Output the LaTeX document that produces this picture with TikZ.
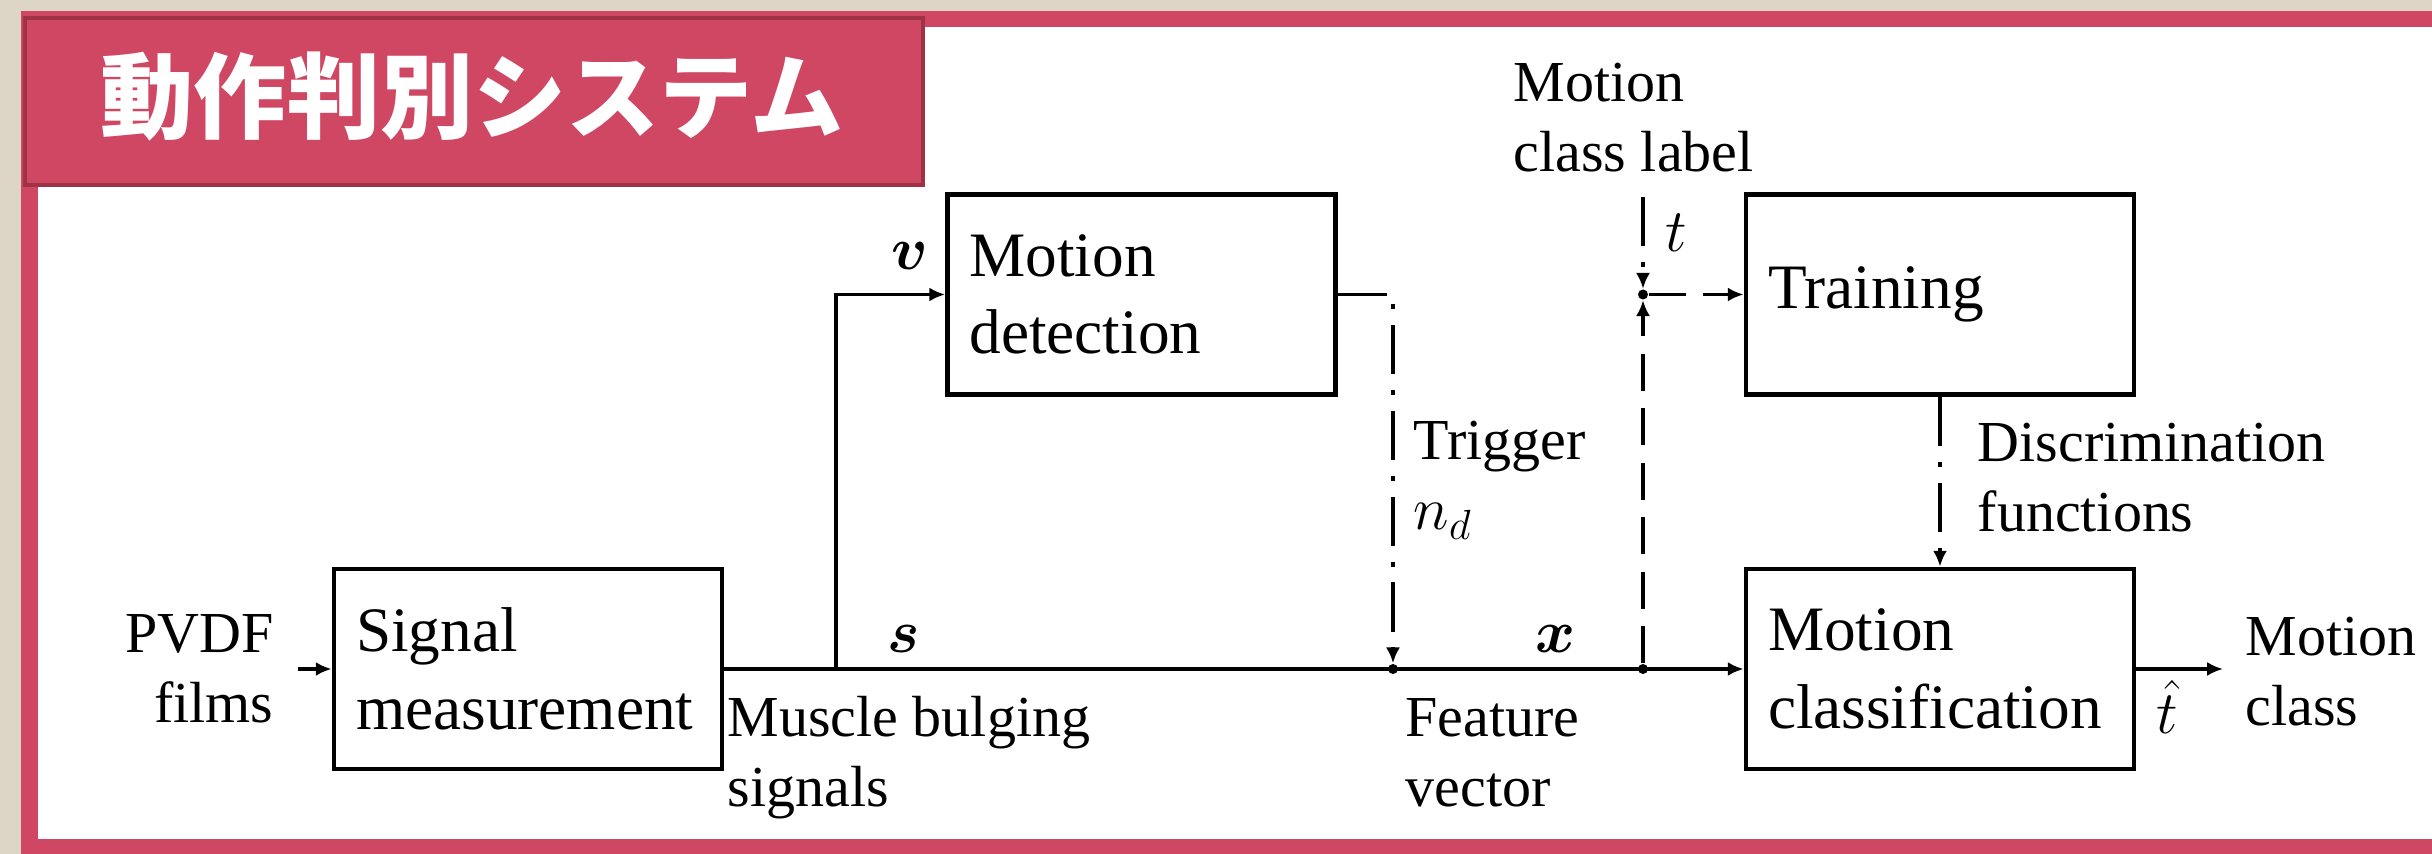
\documentclass[tikz,border=0pt]{standalone}
\usepackage{amsmath}
\usepackage{bm}
\usepackage{fontspec}
\setmainfont{Liberation Serif}
\newfontfamily\jpfont{Noto Sans CJK JP}
\usetikzlibrary{arrows.meta}

\definecolor{framered}{RGB}{207,71,98}
\definecolor{titleedge}{RGB}{160,50,72}
\definecolor{paper}{RGB}{221,214,198}

\begin{document}
\begin{tikzpicture}[
    block/.style={draw, line width=1.35pt, minimum height=2cm, text width=3.44cm,
      inner xsep=0.22cm, align=left, font=\fontsize{18}{22}\selectfont},
    lbl/.style={inner sep=0pt, align=left, font=\fontsize{16.5}{20}\selectfont},
    wire/.style={line width=1.1pt},
    dashdot/.style={wire, dash pattern=on 14pt off 4.5pt on 1.4pt off 4.5pt},
    dsh/.style={wire, dash pattern=on 10.5pt off 5pt},
    dot/.style={circle, fill, inner sep=0pt, minimum size=0.1cm},
    >={Latex[length=4.5pt,width=4pt]}
  ]
  \useasboundingbox (0,0) rectangle (24.32,8.54);

  % frame and title
  \fill[paper] (0,0) rectangle (24.32,8.54);
  \fill[framered] (0.21,0) rectangle (24.32,8.43);
  \fill[white] (0.375,0.15) rectangle (24.32,8.27);
  \draw[titleedge, fill=framered, line width=1pt] (0.25,6.69) rectangle (9.23,8.36);
  \node[white, font=\jpfont\bfseries\fontsize{26.5}{30}\selectfont] (title) at (4.72,7.575) {動作判別システム};

  % blocks
  \node[block] (sig) at (5.28,1.85) {Signal\\measurement};
  \node[block] (det) at (11.415,5.595) {Motion\\detection};
  \node[block] (trn) at (19.40,5.595) {Training};
  \node[block] (cls) at (19.40,1.85) {Motion\\classification};

  % junctions
  \coordinate (pin) at (2.98,1.85);
  \coordinate (split) at (8.36,1.85);
  \coordinate (ltop) at (16.43,6.57);
  \coordinate (pout) at (22.23,1.85);
  \node[dot] (jtrig) at (13.93,1.85) {};
  \node[dot] (jlab) at (16.43,1.85) {};
  \node[dot] (jtrn) at (16.43,5.595) {};

  % connectors
  \draw[wire,->] (pin) -- (sig);
  \draw[wire,->] (sig) -- (cls);
  \draw[wire,->] (split) |- (det);
  \draw[dashdot,->] (det) -| (jtrig);
  \draw[dashdot,->] (ltop) -- (jtrn);
  \draw[dsh,->] (jlab) -- (jtrn);
  \draw[dsh,->] (jtrn) -- (trn);
  \draw[dashdot,->] (trn) -- (cls);
  \draw[wire,->] (cls) -- (pout);

  % labels (base = last line)
  \node[lbl, anchor=base east, align=right] (pvdf) at (2.74,1.31) {PVDF\\films};
  \node[lbl, anchor=base west] (muscle) at (7.27,0.47) {Muscle bulging\\signals};
  \node[lbl, anchor=base west] (feat) at (14.05,0.47) {Feature\\vector};
  \node[lbl, anchor=base west] (trig) at (14.13,3.24) {Trigger\\$n_d$};
  \node[lbl, anchor=base west] (mcl) at (15.13,6.82) {Motion\\class label};
  \node[lbl, anchor=base west] (tlab) at (16.65,6.02) {$t$};
  \node[lbl, anchor=base west] (disc) at (19.77,3.22) {Discrimination\\functions};
  \node[lbl, anchor=base west] (that) at (21.56,1.20) {$\hat{t}$};
  \node[lbl, anchor=base west] (mout) at (22.45,1.28) {Motion\\class};
  \node[lbl, anchor=base] (vlab) at (9.10,5.84) {$\bm{v}$};
  \node[lbl, anchor=base] (slab) at (9.04,2.01) {$\bm{s}$};
  \node[lbl, anchor=base] (xlab) at (15.56,2.01) {$\bm{x}$};
\end{tikzpicture}
\end{document}
